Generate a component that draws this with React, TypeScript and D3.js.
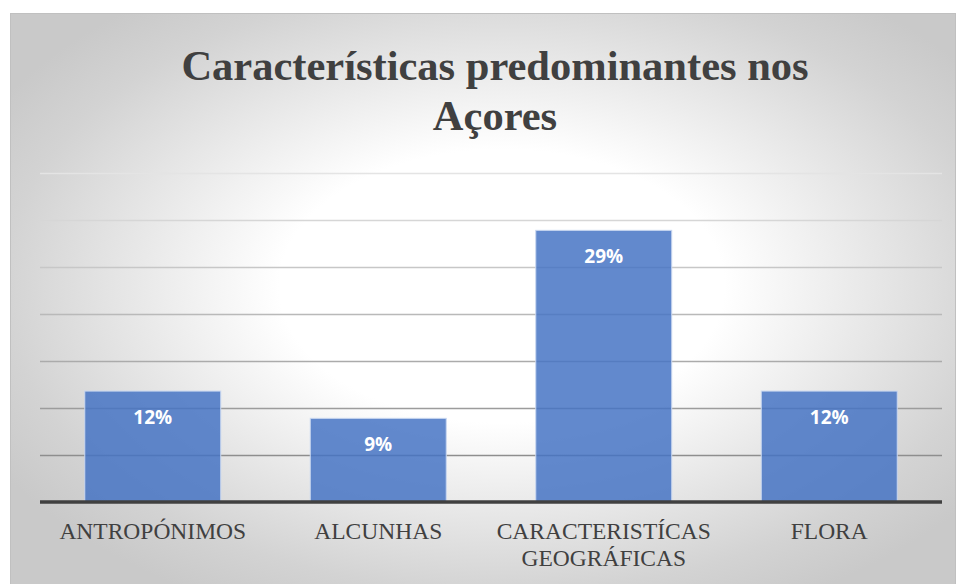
import React from "react";
import * as d3 from "d3";

const categories = ["ANTROPÓNIMOS", "ALCUNHAS", "CARACTERISTÍCAS GEOGRÁFICAS", "FLORA"];
const categoryLines = [["ANTROPÓNIMOS"], ["ALCUNHAS"], ["CARACTERISTÍCAS", "GEOGRÁFICAS"], ["FLORA"]];
const values = [0.118, 0.089, 0.289, 0.118];
const gridTicks = [0.05, 0.1, 0.15, 0.2, 0.25, 0.3, 0.35];
const titleLines = ["Características predominantes nos", "Açores"];

const W = 957;
const H = 584;

export default function App() {
  const x = d3.scaleBand<string>().domain(categories).range([40, 942]).paddingInner(0.397).paddingOuter(0.1985);
  const y = d3.scaleLinear().domain([0, 0.35]).range([502, 173]);
  const fmt = d3.format(".0%");
  const gridColor = d3.interpolateRgb("#e4e4e4", "#8e8e8e");
  const gridT = d3.scaleLinear().domain([0.35, 0.05]).range([0, 1]);

  return (
    <svg width={W} height={H} style={{ position: "absolute", left: 0, top: 0 }}>
      <defs>
        <radialGradient id="bg" cx="0.52" cy="0.47" r="0.62">
          <stop offset="0" stopColor="#ffffff" />
          <stop offset="0.38" stopColor="#ffffff" />
          <stop offset="0.85" stopColor="#d3d3d3" />
          <stop offset="1" stopColor="#c9c9c9" />
        </radialGradient>
      </defs>
      <rect x={0} y={0} width={W} height={H} fill="#ffffff" />
      <rect x={10.5} y={13.5} width={945} height={580} fill="url(#bg)" stroke="#c0c0c0" strokeWidth={1} />

      {titleLines.map((t, i) => (
        <text
          key={i}
          x={495}
          y={80 + i * 50}
          textAnchor="middle"
          fontFamily="'Liberation Serif', 'Times New Roman', serif"
          fontWeight="bold"
          fontSize={42.5}
          fill="#404040"
        >
          {t}
        </text>
      ))}

      {gridTicks.map((t) => (
        <line
          key={t}
          x1={40}
          x2={942}
          y1={Math.round(y(t)) + 0.5}
          y2={Math.round(y(t)) + 0.5}
          stroke={gridColor(gridT(t))}
          strokeWidth={1.3}
        />
      ))}

      {categories.map((c, i) => (
        <rect
          key={c}
          x={x(c)!}
          y={y(values[i])}
          width={x.bandwidth()}
          height={y(0) - y(values[i])}
          fill="#4472c4"
          fillOpacity={0.84}
          stroke="#c9d7f0"
          strokeWidth={1}
        />
      ))}

      <line x1={40} x2={942} y1={y(0)} y2={y(0)} stroke="#404040" strokeWidth={3.5} />

      {categories.map((c, i) => (
        <text
          key={c}
          x={x(c)! + x.bandwidth() / 2}
          y={y(values[i]) + 33}
          textAnchor="middle"
          fontFamily="'Open Sans', Lato, sans-serif"
          fontWeight="bold"
          fontSize={19}
          fill="#ffffff"
        >
          {fmt(values[i])}
        </text>
      ))}

      {categories.map((c, i) => (
        <text
          key={c}
          x={x(c)! + x.bandwidth() / 2}
          textAnchor="middle"
          fontFamily="'Liberation Serif', 'Times New Roman', serif"
          fontSize={23.5}
          fill="#404040"
        >
          {categoryLines[i].map((l, j) => (
            <tspan key={j} x={x(c)! + x.bandwidth() / 2} y={539 + j * 27}>
              {l}
            </tspan>
          ))}
        </text>
      ))}
    </svg>
  );
}
